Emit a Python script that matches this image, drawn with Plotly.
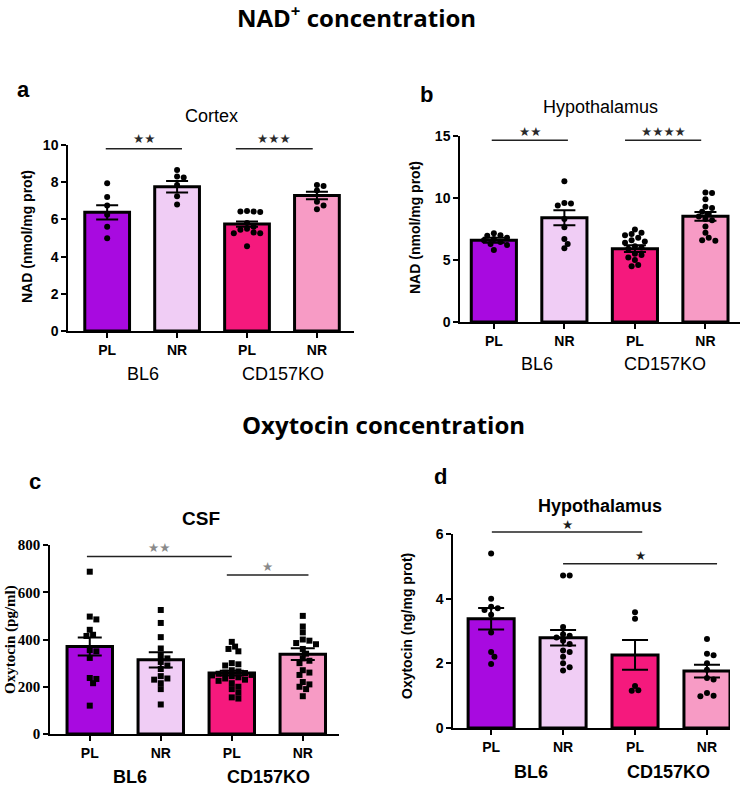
import plotly.graph_objects as go

W, H = 747, 786

# ---------------- data ----------------
groups = ["PL", "NR", "PL", "NR"]
strains = ["BL6", "CD157KO"]
bar_colors = ["#A80AE0", "#F0CDF5", "#F5197D", "#F79BC5"]

# a: NAD cortex (nmol/mg prot)
cortex_means = [6.38, 7.76, 5.75, 7.28]
cortex_sem = [0.38, 0.31, 0.14, 0.20]
cortex_pl_bl6 = [7.95, 7.2, 6.75, 6.25, 5.6, 4.98]
cortex_nr_bl6 = [8.65, 8.3, 8.25, 7.85, 7.25, 6.8]
cortex_pl_ko = [6.45, 6.42, 6.4, 6.42, 5.8, 5.6, 5.5, 5.45, 5.3, 5.25, 5.25, 4.55]
cortex_nr_ko = [7.85, 7.8, 7.55, 6.95, 6.75, 6.55]

# b: NAD hypothalamus (nmol/mg prot)
hypo_nad_means = [6.59, 8.41, 5.91, 8.52]
hypo_nad_sem = [0.2, 0.6, 0.27, 0.36]
hypo_nad_pl_bl6 = [7.15, 7.0, 6.95, 6.8, 6.7, 6.6, 6.45, 6.3, 6.2, 5.8]
hypo_nad_nr_bl6 = [11.35, 9.6, 9.55, 9.4, 8.3, 7.65, 6.7, 6.3, 5.95]
hypo_nad_pl_ko = [7.45, 7.2, 7.1, 7.0, 6.8, 6.6, 6.5, 6.4, 6.1, 6.0, 5.9, 5.5, 5.4, 5.2, 5.0, 4.6, 4.5]
hypo_nad_nr_ko = [10.45, 10.4, 9.9, 9.3, 9.2, 8.9, 8.7, 8.5, 8.3, 8.2, 7.7, 7.2, 6.8, 6.6, 6.55]

# c: Oxytocin CSF (pg/ml)
csf_means = [370, 314, 258, 338]
csf_sem = [38, 32, 10, 25]
csf_pl_bl6 = [687, 497, 485, 441, 420, 415, 355, 350, 322, 237, 233, 215, 120]
csf_nr_bl6 = [525, 470, 410, 362, 330, 320, 305, 290, 275, 245, 235, 230, 215, 190, 125]
csf_pl_ko = [390, 370, 360, 350, 300, 295, 290, 270, 265, 260, 258, 255, 250, 248, 245,
             240, 235, 230, 225, 215, 200, 190, 175, 155, 150]
csf_nr_ko = [500, 455, 430, 400, 395, 385, 380, 360, 340, 320, 310, 300, 270, 260, 250,
             220, 210, 200, 190, 160]

# d: Oxytocin hypothalamus (ng/mg prot)
hypo_oxt_means = [3.38, 2.79, 2.26, 1.76]
hypo_oxt_sem = [0.33, 0.24, 0.46, 0.2]
hypo_oxt_pl_bl6 = [5.4, 4.0, 3.75, 3.7, 3.65, 3.5, 2.95, 2.35, 2.2, 1.98]
hypo_oxt_nr_bl6 = [4.72, 4.72, 3.12, 2.9, 2.85, 2.8, 2.7, 2.6, 2.4, 2.35, 2.2, 2.0, 1.88, 1.78]
hypo_oxt_pl_ko = [3.58, 3.38, 1.3, 1.17, 1.15]
hypo_oxt_nr_ko = [2.75, 2.3, 2.25, 2.0, 1.8, 1.55, 1.5, 1.08, 1.0, 0.98]

# significance: (x_start, x_end, y, label)
sig_a = [(-0.02, 1.07, 9.8, "★★"), (1.84, 2.94, 9.8, "★★★")]
sig_b = [(-0.03, 1.05, 14.65, "★★"), (1.86, 2.94, 14.65, "★★★★")]
sig_c = [(-0.04, 2.0, 751, "★★"), (1.93, 3.08, 673, "★")]
sig_d = [(0.01, 2.10, 6.06, "★"), (1.0, 3.14, 5.08, "★")]

# ---------------- layout geometry (pixels) ----------------
panels = [
    dict(ax="", pts=[cortex_pl_bl6, cortex_nr_bl6, cortex_pl_ko, cortex_nr_ko],
         means=cortex_means, sem=cortex_sem, sig=sig_a, yr=[0, 10], dtick=2,
         px=(68, 354), py=(145, 331), xr=[-0.56, 3.53], cap=11, sym="circle",
         tickfont=dict(family="Liberation Sans", size=14, color="black", weight="bold"),
         starcolor="#2a2a2a", shift=10),
    dict(ax="2", pts=[hypo_nad_pl_bl6, hypo_nad_nr_bl6, hypo_nad_pl_ko, hypo_nad_nr_ko],
         means=hypo_nad_means, sem=hypo_nad_sem, sig=sig_b, yr=[0, 15], dtick=5,
         px=(460, 740), py=(136, 322), xr=[-0.48, 3.49], cap=11, sym="circle",
         tickfont=dict(family="Liberation Sans", size=14, color="black", weight="bold"),
         starcolor="#2a2a2a", shift=9),
    dict(ax="3", pts=[csf_pl_bl6, csf_nr_bl6, csf_pl_ko, csf_nr_ko],
         means=csf_means, sem=csf_sem, sig=sig_c, yr=[0, 800], dtick=200,
         px=(50, 339), py=(545, 734), xr=[-0.56, 3.51], cap=12, sym="square",
         tickfont=dict(family="Liberation Serif", size=15, color="black", weight="bold"),
         starcolor="#8a8a8a", shift=9),
    dict(ax="4", pts=[hypo_oxt_pl_bl6, hypo_oxt_nr_bl6, hypo_oxt_pl_ko, hypo_oxt_nr_ko],
         means=hypo_oxt_means, sem=hypo_oxt_sem, sig=sig_d, yr=[0, 6], dtick=2,
         px=(453, 730), py=(534, 728), xr=[-0.53, 3.32], cap=13, sym="circle",
         tickfont=dict(family="Liberation Sans", size=14, color="black", weight="bold"),
         starcolor="#1a1a1a", shift=8),
]


def swarm(vals, ppu_y, ppu_x, d=5.5, maxhalf=20):
    """Simple beeswarm: returns x offsets (category units)."""
    order = sorted(range(len(vals)), key=lambda i: -vals[i])
    placed = []
    res = [0.0] * len(vals)
    step = d * 0.6
    cands = [0.0]
    k = 1
    while k * step <= maxhalf:
        cands += [k * step, -k * step]
        k += 1
    for i in order:
        y = vals[i] * ppu_y
        best, bestc = None, None
        for c in cands:
            ov = 0.0
            for (px_, py_) in placed:
                dist = ((px_ - c) ** 2 + (py_ - y) ** 2) ** 0.5
                if dist < d * 0.95:
                    ov += d - dist
            if ov == 0:
                best = c
                break
            if bestc is None or ov < bestc:
                bestc, best = ov, c
        placed.append((best, y))
        res[i] = best / ppu_x
    return res


fig = go.Figure()
layout_axes = {}
shapes = []
annotations = []

for p in panels:
    ax = p["ax"]
    xa = "x" + ax
    ya = "y" + ax
    x0, x1 = p["px"]
    ytop, ybot = p["py"]
    ppu_x = (x1 - x0) / (p["xr"][1] - p["xr"][0])
    ppu_y = (ybot - ytop) / (p["yr"][1] - p["yr"][0])

    fig.add_trace(go.Bar(
        x=[0, 1, 2, 3], y=p["means"], width=0.64,
        marker=dict(color=bar_colors, line=dict(color="black", width=3)),
        xaxis=xa, yaxis=ya, showlegend=False, hoverinfo="skip"))

    xs, ys = [], []
    for gi, vals in enumerate(p["pts"]):
        offs = swarm(vals, ppu_y, ppu_x)
        xs += [gi + o for o in offs]
        ys += vals
    fig.add_trace(go.Scatter(
        x=xs, y=ys, mode="markers", cliponaxis=False,
        marker=dict(size=6, color="black", symbol=p["sym"]),
        xaxis=xa, yaxis=ya, showlegend=False, hoverinfo="skip"))

    fig.add_trace(go.Scatter(
        x=[0, 1, 2, 3], y=p["means"], mode="markers",
        marker=dict(size=1, color="rgba(0,0,0,0)"),
        error_y=dict(type="data", array=p["sem"], color="black", thickness=2, width=p["cap"]),
        xaxis=xa, yaxis=ya, showlegend=False, hoverinfo="skip"))

    key = "xaxis" + ax
    layout_axes[key] = dict(
        domain=[x0 / W, x1 / W], range=p["xr"], anchor=ya, automargin=False,
        tickmode="array", tickvals=[0, 1, 2, 3], ticktext=groups,
        showline=True, linecolor="black", linewidth=1.5,
        ticks="outside", ticklen=5, tickwidth=1.5, tickcolor="black",
        showgrid=False, zeroline=False,
        tickfont=dict(family="Liberation Sans", size=14, color="black", weight="bold"))
    layout_axes["yaxis" + ax] = dict(
        domain=[1 - ybot / H, 1 - ytop / H], range=p["yr"], anchor=xa, automargin=False,
        dtick=p["dtick"], tick0=0,
        showline=True, linecolor="black", linewidth=1.5,
        ticks="outside", ticklen=5, tickwidth=1.5, tickcolor="black",
        showgrid=False, zeroline=False, tickfont=p["tickfont"])

    for (sx0, sx1, sy, lab) in p["sig"]:
        yd = sy / p["yr"][1]
        shapes.append(dict(type="line", xref=xa, yref=ya + " domain",
                           x0=sx0, x1=sx1, y0=yd, y1=yd,
                           line=dict(color="#222222", width=1.5)))
        annotations.append(dict(xref=xa, yref=ya + " domain", x=(sx0 + sx1) / 2, y=yd,
                                text=lab, showarrow=False, yanchor="middle",
                                yshift=p["shift"],
                                font=dict(family="DejaVu Sans", size=12.5,
                                          color=p["starcolor"])))


def txt(x, y, s, size, bold=False, family="Liberation Sans", angle=0, color="black"):
    annotations.append(dict(xref="paper", yref="paper", x=x / W, y=1 - y / H, text=s,
                            showarrow=False, xanchor="center", yanchor="middle",
                            textangle=angle,
                            font=dict(family=family, size=size, color=color,
                                      weight="bold" if bold else "normal")))


# main titles
txt(356, 17, "NAD<sup>+</sup> concentration", 24, True, "Open Sans")
txt(383, 424, "Oxytocin concentration", 24, True, "Open Sans")

# panel letters
txt(23, 90, "a", 22, True)
txt(426, 94, "b", 22, True)
txt(35, 481, "c", 22, True)
txt(440, 477, "d", 22, True)

# subtitles
txt(212, 116, "Cortex", 18)
txt(600, 107, "Hypothalamus", 18)
txt(201, 518, "CSF", 19, True)
txt(600, 506, "Hypothalamus", 18, True)

# y-axis titles
txt(27, 237, "NAD (nmol/mg prot)", 14, True, angle=-90)
txt(415, 228, "NAD (nmol/mg prot)", 14, True, angle=-90)
txt(10, 640, "Oxytocin (pg/ml)", 15, True, "Liberation Serif", angle=-90)
txt(407, 626, "Oxytocin (ng/mg prot)", 14, True, angle=-90)

# strain labels
txt(143, 374, strains[0], 18)
txt(283, 374, strains[1], 18)
txt(537, 364, strains[0], 18)
txt(665, 364, strains[1], 18)
txt(130, 777, strains[0], 18, True)
txt(268, 777, strains[1], 18, True)
txt(531, 772, strains[0], 18, True)
txt(668, 772, strains[1], 18, True)

fig.update_layout(
    width=W, height=H, margin=dict(l=0, r=0, t=0, b=0, pad=0, autoexpand=False),
    paper_bgcolor="white", plot_bgcolor="white",
    shapes=shapes, annotations=annotations, bargap=0.3,
    **layout_axes)

fig.write_html("out.html", config={"displayModeBar": False},
               post_script="document.body.style.margin='0';document.body.style.overflow='hidden';")
